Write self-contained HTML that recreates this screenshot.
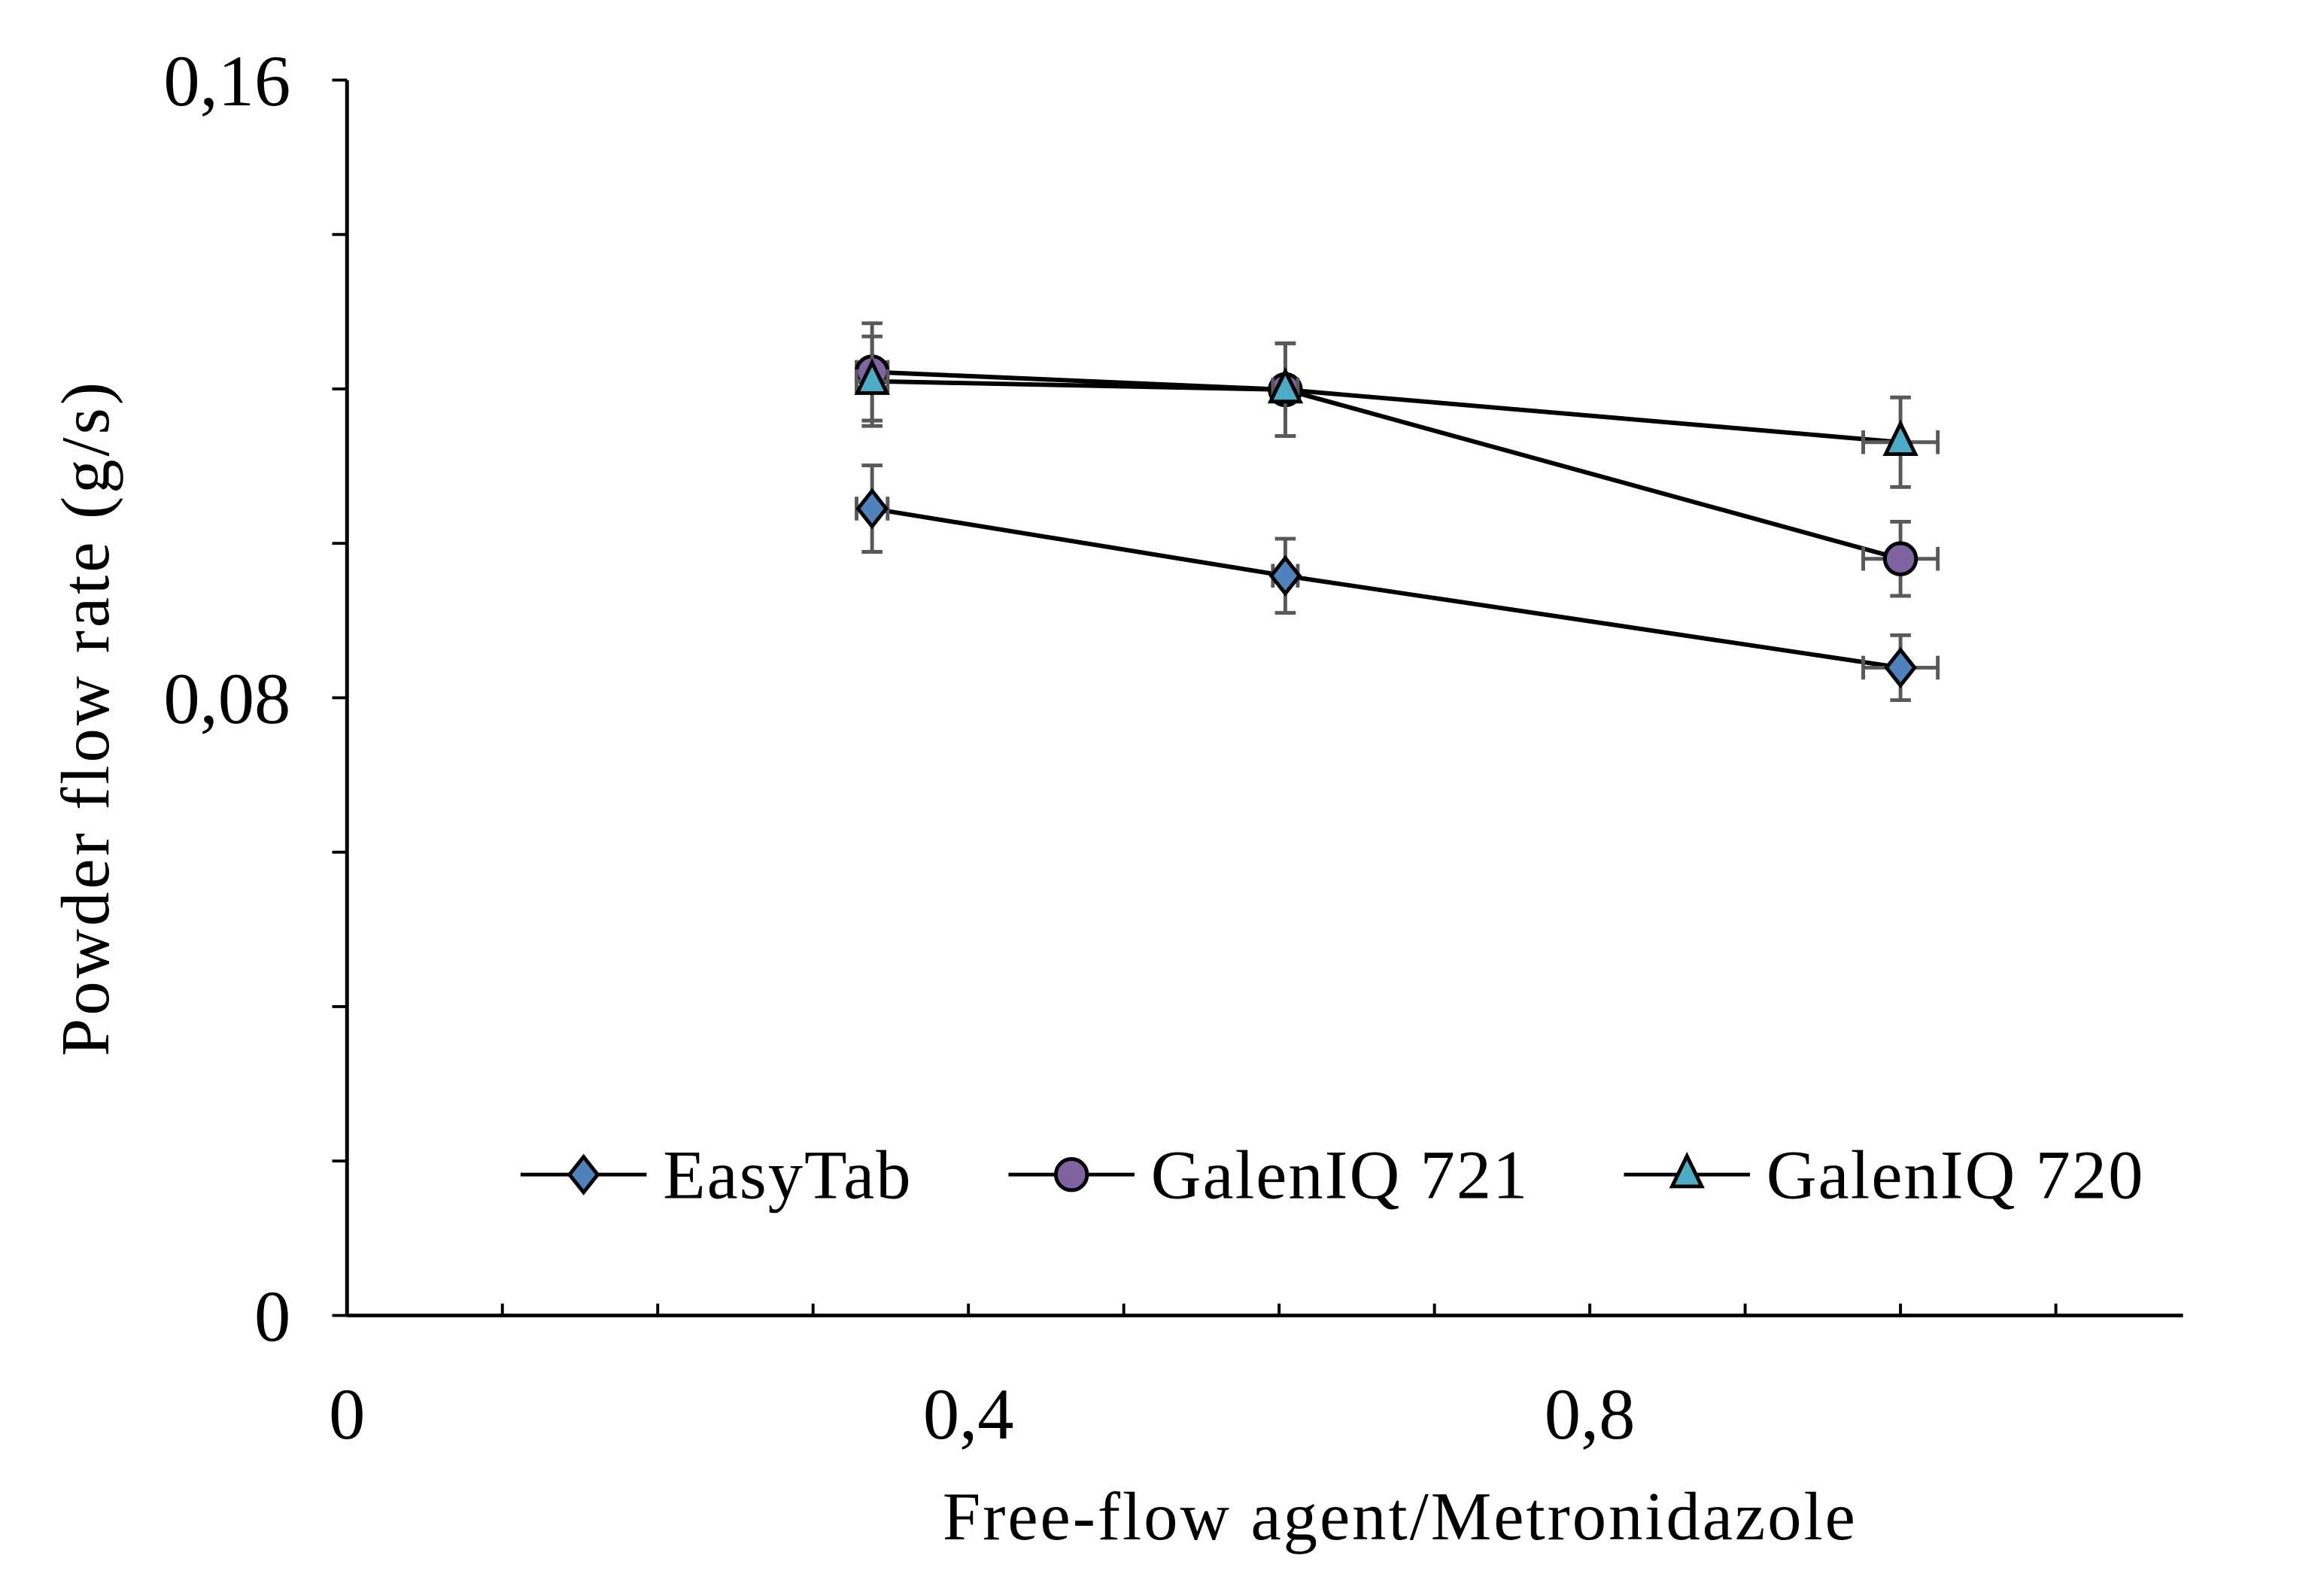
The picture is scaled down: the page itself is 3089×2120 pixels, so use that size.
<!DOCTYPE html>
<html><head><meta charset="utf-8"><style>
html,body{margin:0;padding:0;background:#fff;}
svg{display:block;}
text{font-family:"Liberation Serif",serif;fill:#000;}
</style></head><body>
<svg id="chart" width="3089" height="2120" viewBox="0 0 3089 2120" xmlns="http://www.w3.org/2000/svg">
<g transform="scale(0.9856)">
<g id="axes"></g>
<g id="series"></g>
<g id="legend"></g>
</g>
</svg>
<script>
const xValues = [0.338, 0.604, 1.0];
const easyTab = [0.1045, 0.0958, 0.0839];
const easyTabErr = [0.0056, 0.0048, 0.0042];
const galen721 = [0.1222, 0.1199, 0.0980];
const galen721Err = [0.0063, 0.0060, 0.0048];
const galen720 = [0.1210, 0.1199, 0.1131];
const galen720Err = [0.0058, 0.0060, 0.0058];
const xErr = [0.01, 0.008, 0.024];
const yTickLabels = ["0", "0,08", "0,16"];
const yTickLabelValues = [0, 0.08, 0.16];
const xTickLabels = ["0", "0,4", "0,8"];
const xTickLabelValues = [0, 0.4, 0.8];

const NS = "http://www.w3.org/2000/svg";
const X0 = 468, XPX = 2095;
const Y0 = 1774, YPX = 10412.5;
const sx = v => X0 + v * XPX;
const sy = v => Y0 - v * YPX;
function mk(tag, attrs, parent) {
  const e = document.createElementNS(NS, tag);
  for (const k in attrs) e.setAttribute(k, attrs[k]);
  parent.appendChild(e);
  return e;
}
const axes = document.getElementById('axes');
const ax = mk('line', {x1: X0, y1: Y0, x2: 2944, y2: Y0, stroke: '#000', 'stroke-width': 5}, axes);


const ay = mk('line', {x1: X0, y1: Y0, x2: X0, y2: sy(0.16), stroke: '#000', 'stroke-width': 5}, axes);


for (let i = 1; i <= 11; i++) {
  const t = mk('line', {x1: sx(i / 10), y1: Y0, x2: sx(i / 10), y2: Y0 - 16, stroke: '#000', 'stroke-width': 4}, axes);
  
  
}
for (let i = 0; i <= 8; i++) {
  const t = mk('line', {x1: X0 - 20, y1: sy(i * 0.02), x2: X0, y2: sy(i * 0.02), stroke: '#000', 'stroke-width': 4}, axes);
  
  
}
yTickLabels.forEach((l, i) => {
  const t = mk('text', {x: 392, y: sy(yTickLabelValues[i]) + 34, 'font-size': 98, 'text-anchor': 'end'}, axes);
  t.textContent = l;
  
  
});
xTickLabels.forEach((l, i) => {
  const t = mk('text', {x: sx(xTickLabelValues[i]), y: 1940, 'font-size': 98, 'text-anchor': 'middle'}, axes);
  t.textContent = l;
  
  
});
const xt = mk('text', {x: 1888, y: 2076, 'font-size': 92, 'text-anchor': 'middle', 'letter-spacing': 3}, axes);
xt.textContent = 'Free-flow  agent/Metronidazole';


const yt = mk('text', {x: 0, y: 0, 'font-size': 92, 'text-anchor': 'middle', 'letter-spacing': 4, transform: 'translate(146,968) rotate(-90)'}, axes);
yt.textContent = 'Powder flow  rate  (g/s)';



function marker(type, cx, cy, color, parent) {
  let e;
  if (type === 'diamond') e = mk('polygon', {points: `${cx},${cy-24} ${cx+19},${cy} ${cx},${cy+24} ${cx-19},${cy}`}, parent);
  else if (type === 'circle') e = mk('circle', {cx, cy, r: 21}, parent);
  else e = mk('polygon', {points: `${cx},${cy-25} ${cx+20},${cy+16} ${cx-20},${cy+16}`}, parent);
  e.setAttribute('fill', color);
  e.setAttribute('stroke', '#000');
  e.setAttribute('stroke-width', 5);
  return e;
}
const seriesDefs = [
  {name: 'easytab', ys: easyTab, err: easyTabErr, type: 'diamond', color: '#4f81bd'},
  {name: 'galeniq-721', ys: galen721, err: galen721Err, type: 'circle', color: '#8064a2'},
  {name: 'galeniq-720', ys: galen720, err: galen720Err, type: 'triangle', color: '#4bacc6'}
];
const sg = document.getElementById('series');
seriesDefs.forEach(s => {
  const g = mk('g', {}, sg);
  
  
  const pts = xValues.map((x, i) => sx(x) + ',' + sy(s.ys[i])).join(' ');
  const pl = mk('polyline', {points: pts, fill: 'none', stroke: '#000', 'stroke-width': 6}, g);
  
  
  xValues.forEach((x, i) => {
    const cx = sx(x), cy = sy(s.ys[i]);
    const eg = mk('g', {stroke: '#595959', 'stroke-width': 5}, g);
    
    
    const t = sy(s.ys[i] + s.err[i]), b = sy(s.ys[i] - s.err[i]);
    mk('line', {x1: cx, y1: t, x2: cx, y2: b}, eg);
    mk('line', {x1: cx - 14, y1: t, x2: cx + 14, y2: t}, eg);
    mk('line', {x1: cx - 14, y1: b, x2: cx + 14, y2: b}, eg);
    const l = sx(x - xErr[i]), r = sx(x + xErr[i]);
    mk('line', {x1: l, y1: cy, x2: r, y2: cy}, eg);
    mk('line', {x1: l, y1: cy - 16, x2: l, y2: cy + 16}, eg);
    mk('line', {x1: r, y1: cy - 16, x2: r, y2: cy + 16}, eg);
  });
  xValues.forEach((x, i) => {
    const m = marker(s.type, sx(x), sy(s.ys[i]), s.color, g);
    
    
  });
});
const lg = document.getElementById('legend');
const legendLabels = ['EasyTab', 'GalenIQ 721', 'GalenIQ 720'];
const legendX = [714, 1380, 2224];
seriesDefs.forEach((s, i) => {
  const g = mk('g', {}, lg);
  
  
  const x = legendX[i] - [12, 20, 34][i], y = 1584;
  mk('line', {x1: x, y1: y, x2: x + 170, y2: y, stroke: '#000', 'stroke-width': 5}, g);
  marker(s.type, x + 85, y, s.color, g);
  const t = mk('text', {x: x + 192, y: y + 32, 'font-size': 94, 'letter-spacing': 2}, g);
  t.textContent = legendLabels[i];
});
</script>
</body></html>
